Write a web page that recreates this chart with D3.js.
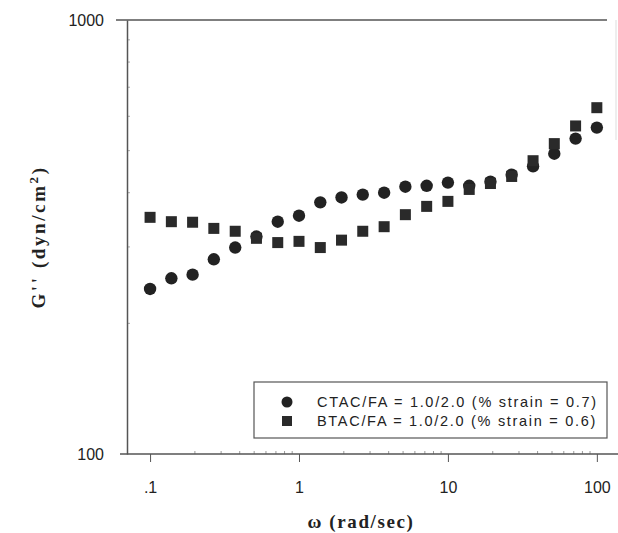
<!DOCTYPE html>
<html>
<head>
<meta charset="utf-8">
<script src="https://cdn.jsdelivr.net/npm/d3@7"></script>
<style>
  body { margin: 0; background: #fff; }
  svg { display: block; }
</style>
</head>
<body>
<div id="chartWrap"></div>
<script>
'use strict'

// frequencies, 7 points per decade from 0.1 to 100 rad/sec
const omega = [0.1, 0.139, 0.193, 0.268, 0.373, 0.518, 0.72, 1, 1.39, 1.93, 2.68,
    3.73, 5.18, 7.2, 10, 13.9, 19.3, 26.8, 37.3, 51.8, 72, 100];
// G'' values
const ctacValues = [240, 254, 259, 281, 299, 317, 343, 354, 380, 390, 396,
    400, 413, 415, 422, 415, 424, 440, 460, 492, 533, 565];
const btacValues = [351, 343, 342, 331, 326, 314, 307, 309, 299, 311, 326,
    334, 356, 372, 382, 407, 420, 436, 474, 519, 570, 628];
const seriesNames = ['CTAC/FA = 1.0/2.0 (% strain = 0.7)', 'BTAC/FA = 1.0/2.0 (% strain = 0.6)'];
const xTicks = [0.1, 1, 10, 100];
const xTickLabels = ['.1', '1', '10', '100'];
const yTicks = [100, 1000];

const svgWidth = 618, svgHeight = 533;
const ink = '#222';
const axisColor = '#555';
const sans = 'Arial, "Liberation Sans", sans-serif';
const serif = '"Liberation Serif", "DejaVu Serif", serif';

const svg = d3.select('#chartWrap')
    .append('svg')
    .attr('width', svgWidth)
    .attr('height', svgHeight);

// scales
const xScale = d3.scaleLog()
    .domain([0.07, 117])
    .range([127, 607]);

const yScale = d3.scaleLog()
    .domain([100, 1000])
    .range([454, 20]);

// minor ticks (faint)
const minorX = [];
[0.1, 1, 10].forEach(d => { for (let k = 2; k <= 9; k++) minorX.push(d * k); });
svg.append('g').selectAll('line')
    .data(minorX)
    .join('line')
    .attr('x1', d => xScale(d)).attr('x2', d => xScale(d))
    .attr('y1', yScale(100)).attr('y2', yScale(100) - 3)
    .attr('stroke', '#999').attr('stroke-width', 1);

const minorY = [];
for (let k = 2; k <= 9; k++) minorY.push(100 * k);
svg.append('g').selectAll('line')
    .data(minorY)
    .join('line')
    .attr('x1', xScale.range()[0]).attr('x2', xScale.range()[0] + 3)
    .attr('y1', d => yScale(d)).attr('y2', d => yScale(d))
    .attr('stroke', '#aaa').attr('stroke-width', 1);

// X axis
const xAxis = svg.append('g')
    .attr('class', 'axis axis-x')
    .attr('transform', `translate(0, ${yScale(100)})`)
    .call(d3.axisBottom(xScale)
        .tickValues(xTicks)
        .tickSize(8)
        .tickSizeOuter(0)
        .tickFormat((d, i) => xTickLabels[i]));
xAxis.select('.domain').remove();
xAxis.selectAll('.tick line').attr('stroke', axisColor);
xAxis.selectAll('.tick text')
    .attr('dy', '1.15em')
    .attr('y', 21)
    .attr('fill', ink)
    .attr('font-family', sans)
    .attr('font-size', 16);

// bottom line runs past the plot on both sides
svg.append('line')
    .attr('x1', 120).attr('x2', svgWidth)
    .attr('y1', yScale(100)).attr('y2', yScale(100))
    .attr('stroke', axisColor).attr('stroke-width', 1.5);

// top line
svg.append('line')
    .attr('x1', 116).attr('x2', xScale.range()[1])
    .attr('y1', yScale(1000)).attr('y2', yScale(1000))
    .attr('stroke', axisColor).attr('stroke-width', 1.5);

// faint right frame
svg.append('line')
    .attr('x1', 616).attr('x2', 616)
    .attr('y1', yScale(1000)).attr('y2', 140)
    .attr('stroke', '#ddd').attr('stroke-width', 1);

// Y axis
const yAxis = svg.append('g')
    .attr('class', 'axis axis-y')
    .attr('transform', `translate(${xScale.range()[0]}, 0)`)
    .call(d3.axisLeft(yScale)
        .tickValues(yTicks)
        .tickSize(0)
        .tickPadding(23)
        .tickFormat(d3.format('d')));
yAxis.select('.domain')
    .attr('stroke', axisColor).attr('stroke-width', 1.5);
yAxis.selectAll('.tick text')
    .attr('fill', ink)
    .attr('font-family', sans)
    .attr('font-size', 16);

// CTAC markers: circles
svg.append('g').selectAll('circle')
    .data(omega.map((w, i) => ({ w, v: ctacValues[i] })))
    .join('circle')
    .attr('cx', d => xScale(d.w))
    .attr('cy', d => yScale(d.v))
    .attr('r', 6.2)
    .attr('fill', ink);

// BTAC markers: squares
const sq = 11;
svg.append('g').selectAll('rect')
    .data(omega.map((w, i) => ({ w, v: btacValues[i] })))
    .join('rect')
    .attr('x', d => xScale(d.w) - sq / 2)
    .attr('y', d => yScale(d.v) - sq / 2)
    .attr('width', sq)
    .attr('height', sq)
    .attr('fill', '#2a2a2a');

// legend
const legend = svg.append('g').attr('class', 'legend');
legend.append('rect')
    .attr('x', 254).attr('y', 382)
    .attr('width', 353).attr('height', 56)
    .attr('fill', '#fff')
    .attr('stroke', axisColor).attr('stroke-width', 1.2);

const rows = legend.selectAll('g.row')
    .data(seriesNames)
    .join('g')
    .attr('class', 'row')
    .attr('transform', (d, i) => `translate(287, ${402 + i * 19})`);

rows.filter((d, i) => i === 0).append('circle')
    .attr('r', 5.5).attr('fill', ink);
rows.filter((d, i) => i === 1).append('rect')
    .attr('x', -5).attr('y', -5)
    .attr('width', 10).attr('height', 10)
    .attr('fill', '#2a2a2a');

rows.append('text')
    .attr('x', 30)
    .attr('dy', '0.36em')
    .attr('fill', ink)
    .attr('font-family', sans)
    .attr('font-size', 14.5)
    .attr('letter-spacing', 1.7)
    .text(d => d);

// axis titles
svg.append('text')
    .attr('x', 361)
    .attr('y', 528)
    .attr('text-anchor', 'middle')
    .attr('fill', ink)
    .attr('font-family', serif)
    .attr('font-weight', 'bold')
    .attr('font-size', 19)
    .attr('letter-spacing', 1.6)
    .text('\u03c9 (rad/sec)');

const yTitle = svg.append('text')
    .attr('transform', 'translate(45, 237) rotate(-90)')
    .attr('text-anchor', 'middle')
    .attr('fill', ink)
    .attr('font-family', serif)
    .attr('font-weight', 'bold')
    .attr('font-size', 19)
    .attr('letter-spacing', 2.6);
yTitle.append('tspan').text("G'' (dyn/cm");
yTitle.append('tspan').attr('baseline-shift', 'super').attr('font-size', 13).text('2');
yTitle.append('tspan').text(')');
</script>
</body>
</html>
